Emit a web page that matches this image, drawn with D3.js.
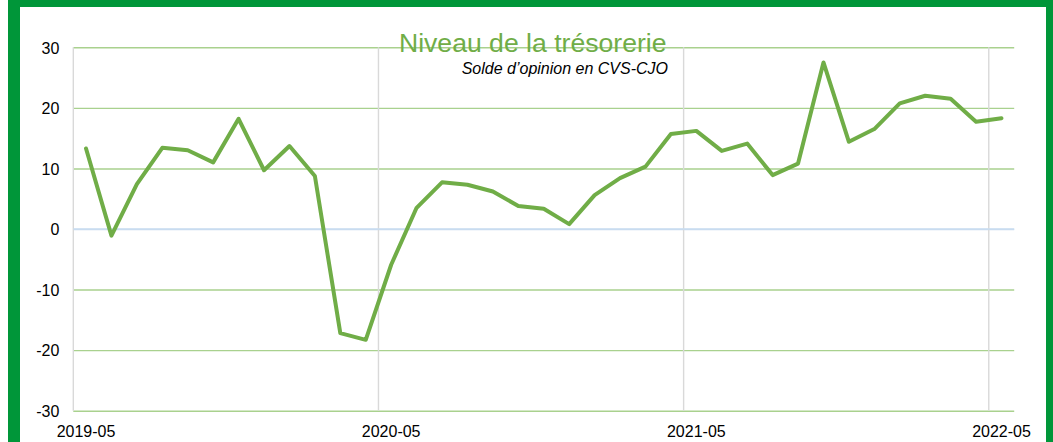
<!DOCTYPE html>
<html>
<head>
<meta charset="utf-8">
<script src="https://cdn.jsdelivr.net/npm/d3@7"></script>
<style>
  html, body { margin: 0; padding: 0; background: #fff; }
  svg { display: block; font-family: "Liberation Sans", Arial, sans-serif; }
</style>
</head>
<body>
<svg id="chart" width="1053" height="442"></svg>
<script>
// ---- Data ----
const months = [
  "2019-05","2019-06","2019-07","2019-08","2019-09","2019-10","2019-11","2019-12",
  "2020-01","2020-02","2020-03","2020-04","2020-05","2020-06","2020-07","2020-08",
  "2020-09","2020-10","2020-11","2020-12","2021-01","2021-02","2021-03","2021-04",
  "2021-05","2021-06","2021-07","2021-08","2021-09","2021-10","2021-11","2021-12",
  "2022-01","2022-02","2022-03","2022-04","2022-05"
];
const values = [
  13.3, -1.1, 7.4, 13.4, 13.0, 11.0, 18.2, 9.7,
  13.7, 8.75, -17.2, -18.3, -5.9, 3.5, 7.7, 7.3,
  6.2, 3.8, 3.35, 0.8, 5.6, 8.4, 10.3, 15.7,
  16.2, 12.9, 14.1, 8.9, 10.8, 27.5, 14.4, 16.5,
  20.75, 22.0, 21.5, 17.7, 18.3
];
const xTickLabels = ["2019-05", "2020-05", "2021-05", "2022-05"];
const yTicks = [-30, -20, -10, 0, 10, 20, 30];
const title = "Niveau de la trésorerie";
const subtitle = "Solde d’opinion en CVS-CJO";

// ---- Layout ----
const svg = d3.select("#chart");
const W = 1053, H = 442;
const plot = { left: 73.3, right: 1014.2, top: 47.3, bottom: 410.7 };

// frame
svg.append("rect").attr("x", 8).attr("y", 0).attr("width", W - 8).attr("height", H + 20)
  .attr("fill", "#009639");
svg.append("rect").attr("x", 20).attr("y", 7).attr("width", 1046 - 20).attr("height", H + 20)
  .attr("fill", "#ffffff");

const x = d3.scaleBand().domain(months).range([plot.left, plot.right]).padding(0);
const y = d3.scaleLinear().domain([-30, 30]).range([plot.bottom, plot.top]);

// horizontal gridlines
const yAxis = d3.axisLeft(y).tickValues(yTicks).tickSize(-(plot.right - plot.left)).tickFormat(d => String(d));
const gy = svg.append("g").attr("transform", `translate(${plot.left},0)`).call(yAxis);
gy.select(".domain").remove();
gy.selectAll(".tick line")
  .attr("stroke", d => d === 0 ? "#c9dcf0" : "#a9d18e")
  .attr("stroke-width", d => d === 0 ? 1.6 : 1.4);
gy.selectAll(".tick text")
  .attr("x", -14).attr("dy", "0.36em")
  .attr("fill", "#000").attr("font-size", 16)
  .attr("font-family", "Liberation Sans, Arial, sans-serif");

// vertical gridlines (year boundaries) + left axis line
const gx = svg.append("g");
gx.selectAll("line.v").data(xTickLabels).join("line")
  .attr("class", "v")
  .attr("x1", d => x(d)).attr("x2", d => x(d))
  .attr("y1", plot.top).attr("y2", plot.bottom)
  .attr("stroke", "#d9d9d9").attr("stroke-width", 1.4);

// re-draw zero line over vertical lines
svg.append("line")
  .attr("x1", plot.left).attr("x2", plot.right)
  .attr("y1", y(0)).attr("y2", y(0))
  .attr("stroke", "#c9dcf0").attr("stroke-width", 1.6);

// x labels
gx.selectAll("text.xl").data(xTickLabels).join("text")
  .attr("class", "xl")
  .attr("x", d => x(d) + x.bandwidth() / 2)
  .attr("y", 436.5)
  .attr("text-anchor", "middle")
  .attr("font-size", 16).attr("fill", "#000")
  .text(d => d);

// line
const data = months.map((m, i) => ({ m, v: values[i] }));
const line = d3.line().x(d => x(d.m) + x.bandwidth() / 2).y(d => y(d.v));
svg.append("path").datum(data)
  .attr("d", line)
  .attr("fill", "none")
  .attr("stroke", "#70ad47")
  .attr("stroke-width", 4)
  .attr("stroke-linejoin", "round")
  .attr("stroke-linecap", "round");

// titles
svg.append("text").attr("x", 666.5).attr("y", 52.3)
  .attr("text-anchor", "end").attr("font-size", 26.6).attr("fill", "#70ad47")
  .text(title);
svg.append("text").attr("x", 668).attr("y", 74)
  .attr("text-anchor", "end").attr("font-size", 16).attr("font-style", "italic").attr("fill", "#000")
  .text(subtitle);
</script>
</body>
</html>
